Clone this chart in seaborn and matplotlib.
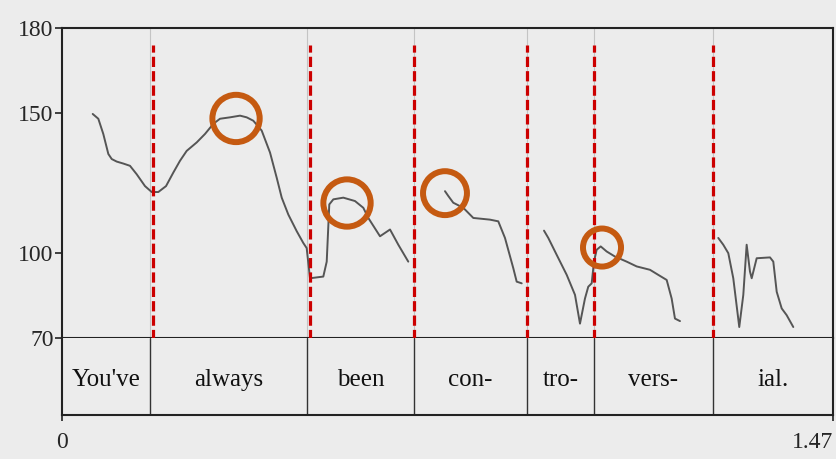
import matplotlib
matplotlib.use('Agg')
import matplotlib.pyplot as plt
import seaborn as sns
import pandas as pd

# pitch track: time (s) / F0 (Hz), one list per voiced stretch
seg1_t = [0.0585, 0.0692, 0.0787, 0.0883, 0.0948, 0.1043, 0.1169, 0.1296, 0.1424, 0.1582,
          0.1710, 0.1836, 0.1983, 0.2122, 0.2250, 0.2377, 0.2568, 0.2726, 0.2885, 0.3012,
          0.3203, 0.3394, 0.3521, 0.3647, 0.3807, 0.3966, 0.4093, 0.4189, 0.4315, 0.4475,
          0.4601, 0.4665, 0.4728, 0.4982, 0.5047, 0.5096, 0.5173, 0.5363, 0.5586, 0.5745,
          0.5840, 0.6063, 0.6254, 0.6412, 0.6602]
seg1_hz = [149.5, 147.8, 142.4, 135.3, 133.5, 132.6, 131.9, 131.1, 128.1, 123.9,
           121.8, 121.8, 123.9, 128.7, 132.9, 136.4, 139.4, 142.4, 146.0, 147.8,
           148.3, 148.9, 148.3, 147.1, 143.6, 135.8, 126.9, 119.8, 113.8, 107.9,
           103.7, 101.9, 91.2, 91.8, 97.1, 117.4, 119.2, 119.8, 118.6, 116.2,
           112.6, 106.1, 108.5, 103.1, 97.1]
seg2_t = [0.7302, 0.7365, 0.7460, 0.7651, 0.7842, 0.8160, 0.8318, 0.8446, 0.8604, 0.8669, 0.8765]
seg2_hz = [122.1, 120.4, 118.0, 116.2, 112.6, 112.0, 111.4, 105.5, 94.8, 90.0, 89.4]
seg3_t = [0.9190, 0.9272, 0.9432, 0.9623, 0.9781, 0.9876, 0.9971, 1.0034, 1.0099, 1.0143,
          1.0194, 1.0271, 1.0385, 1.0543, 1.0766, 1.0957, 1.1211, 1.1369, 1.1529, 1.1624,
          1.1687, 1.1783]
seg3_hz = [108.1, 105.5, 99.5, 92.4, 85.3, 75.1, 84.0, 88.2, 89.4, 97.1,
           101.3, 102.5, 100.7, 98.9, 97.1, 95.4, 94.2, 92.4, 90.6, 84.0,
           76.9, 76.0]
seg4_t = [1.2513, 1.2608, 1.2704, 1.2799, 1.2913, 1.2990, 1.3054, 1.3117, 1.3150, 1.3245,
          1.3499, 1.3562, 1.3627, 1.3722, 1.3817, 1.3943]
seg4_hz = [105.5, 103.1, 100.1, 91.2, 73.9, 85.3, 103.1, 93.6, 91.2, 98.3,
           98.6, 97.1, 86.4, 80.5, 78.1, 73.9]

words = ["You've", 'always', 'been', 'con-', 'tro-', 'vers-', 'ial.']
word_edges = [0.0, 0.1678, 0.4671, 0.6711, 0.8866, 1.0143, 1.2412, 1.47]
red_marks = [0.1735, 0.4728, 0.6711, 0.8866, 1.0143, 1.2412]
peak_t = [0.3318, 0.5434, 0.7302, 1.0296]
peak_hz = [147.9, 117.9, 121.4, 102.1]
y_ticks = [70, 100, 150, 180]
t_end = 1.47

rows = []
for i, (ts, hz) in enumerate([(seg1_t, seg1_hz), (seg2_t, seg2_hz),
                              (seg3_t, seg3_hz), (seg4_t, seg4_hz)]):
    for t, f in zip(ts, hz):
        rows.append([i, t, f])
df = pd.DataFrame(rows, columns=['seg', 'time', 'f0'])

sns.set_theme(style='white')
plt.rcParams['font.family'] = ['Liberation Serif', 'DejaVu Serif']
paper = '#ececec'

fig = plt.figure(figsize=(8.37, 4.59), dpi=100, facecolor=paper)
ax = fig.add_axes([0.0741, 0.2636, 0.9211, 0.6754], facecolor=paper)
ax_w = fig.add_axes([0.0741, 0.0959, 0.9211, 0.1677], facecolor=paper)

# faint word boundaries in the pitch panel
for x in word_edges[1:-1]:
    ax.axvline(x, color='#c4c4c4', lw=0.8, zorder=1)

sns.lineplot(data=df, x='time', y='f0', units='seg', estimator=None, ax=ax,
             color='#555555', lw=1.4, zorder=3)

ax.set_xlim(0, t_end)
ax.set_ylim(70, 180)
ax.set_xticks([])
ax.set_yticks(y_ticks)
ax.set_yticklabels([str(v) for v in y_ticks], fontsize=17)
ax.tick_params(axis='y', direction='out', length=5, width=1.2, color='#222222', pad=1, left=True)
ax.set_xlabel('')
ax.set_ylabel('')
for s in ax.spines.values():
    s.set_color('#222222')
    s.set_linewidth(1.5)

# red dashed markers crossing both panels
ax.vlines(red_marks, 64.3, 173.9, colors='#cc0000', lw=2.3, linestyles=(0, (3.2, 1.3)),
          clip_on=False, zorder=5)

# orange rings on the peaks
ax.scatter(peak_t, peak_hz, s=[1160, 1160, 1000, 750], facecolors='none',
           edgecolors='#c55a11', linewidths=4.3, zorder=6, clip_on=False)

# word strip
ax_w.set_xlim(0, t_end)
ax_w.set_ylim(0, 1)
for x in word_edges[1:-1]:
    ax_w.axvline(x, color='#333333', lw=1.0)
for w, a, b in zip(words, word_edges[:-1], word_edges[1:]):
    ax_w.text((a + b) / 2, 0.46, w, ha='center', va='center', fontsize=18, color='#111111')
ax_w.set_yticks([])
ax_w.set_xticks([0, t_end])
ax_w.set_xticklabels(['0', '1.47'], fontsize=17)
ax_w.get_xticklabels()[1].set_ha('right')
ax_w.tick_params(axis='x', direction='out', length=4, width=1.2, color='#222222', pad=8, bottom=True)
for s in ax_w.spines.values():
    s.set_color('#222222')
    s.set_linewidth(1.5)
ax_w.spines['top'].set_visible(False)

fig.savefig('out.png', dpi=100, facecolor=paper)
